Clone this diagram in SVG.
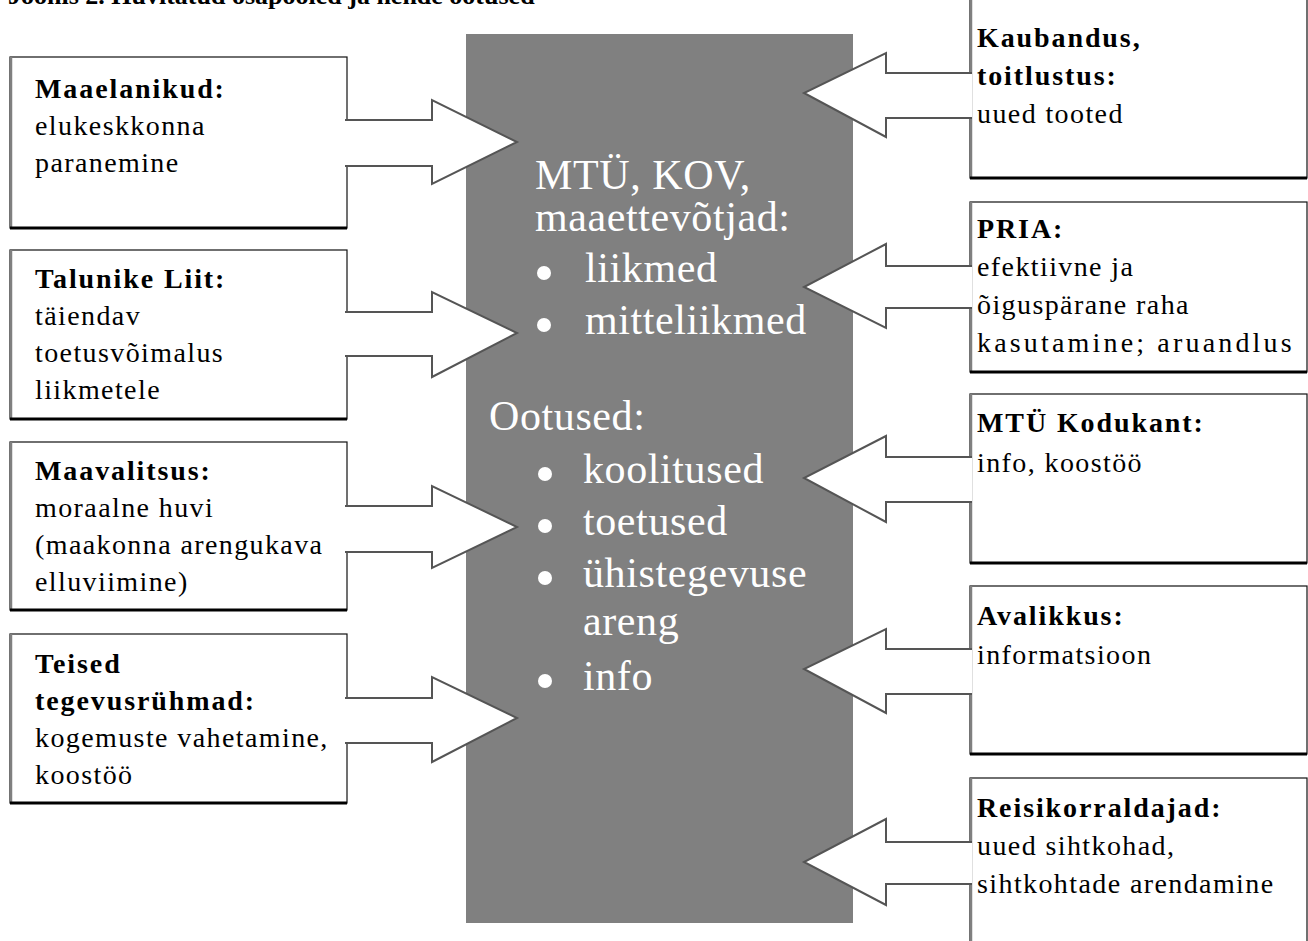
<svg xmlns="http://www.w3.org/2000/svg" width="1308" height="941" viewBox="0 0 1308 941">
<style>
.bg{fill:#ffffff}
.box{fill:#ffffff;stroke:#111;stroke-width:1.2}
.bl{stroke:#808080;stroke-width:2.5}
.bb{stroke:#000;stroke-width:3}
.t{font-family:"Liberation Serif","Times New Roman",serif;font-size:28px;fill:#000;letter-spacing:1.4px}
.b{font-weight:bold;letter-spacing:1.9px}
.c{font-family:"Liberation Serif","Times New Roman",serif;font-size:42px;fill:#ffffff;letter-spacing:0.6px}
.arrow{fill:#ffffff;stroke:#555;stroke-width:2;stroke-linejoin:miter}
.dot{fill:#ffffff}
.title{font-family:"Liberation Serif","Times New Roman",serif;font-size:26px;font-weight:bold;fill:#000}
</style>
<rect class="bg" x="0" y="0" width="1308" height="941"/>
<text class="title" x="8" y="4">Joonis 2. Huvitatud osapooled ja nende ootused</text>

<g id="center">
<rect x="466" y="34" width="387" height="889" fill="#808080"/>
<text class="c" x="535" y="189">MTÜ, KOV,</text>
<text class="c" x="535" y="231">maaettevõtjad:</text>
<circle class="dot" cx="544" cy="273" r="7"/>
<text class="c" x="585" y="282">liikmed</text>
<circle class="dot" cx="544" cy="325" r="7"/>
<text class="c" x="585" y="334">mitteliikmed</text>
<text class="c" x="489" y="430">Ootused:</text>
<circle class="dot" cx="545" cy="474" r="7"/>
<text class="c" x="583" y="483">koolitused</text>
<circle class="dot" cx="545" cy="526" r="7"/>
<text class="c" x="583" y="535">toetused</text>
<circle class="dot" cx="545" cy="578" r="7"/>
<text class="c" x="583" y="587">ühistegevuse</text>
<text class="c" x="583" y="635">areng</text>
<circle class="dot" cx="545" cy="681" r="7"/>
<text class="c" x="583" y="690">info</text>
</g>

<g id="maaelanikud">
<rect class="box" x="10" y="57" width="337" height="171"/>
<line class="bl" x1="11" y1="57" x2="11" y2="228"/>
<line class="bb" x1="10" y1="228" x2="347" y2="228"/>
<text class="t b" x="35" y="98">Maaelanikud:</text>
<text class="t" x="35" y="135">elukeskkonna</text>
<text class="t" x="35" y="172">paranemine</text>
</g>
<g id="talunike-liit">
<rect class="box" x="10" y="250" width="337" height="169"/>
<line class="bl" x1="11" y1="250" x2="11" y2="419"/>
<line class="bb" x1="10" y1="419" x2="347" y2="419"/>
<text class="t b" x="35" y="288">Talunike Liit:</text>
<text class="t" x="35" y="325">täiendav</text>
<text class="t" x="35" y="362">toetusvõimalus</text>
<text class="t" x="35" y="399">liikmetele</text>
</g>
<g id="maavalitsus">
<rect class="box" x="10" y="442" width="337" height="168"/>
<line class="bl" x1="11" y1="442" x2="11" y2="610"/>
<line class="bb" x1="10" y1="610" x2="347" y2="610"/>
<text class="t b" x="35" y="480">Maavalitsus:</text>
<text class="t" x="35" y="517">moraalne huvi</text>
<text class="t" x="35" y="554">(maakonna arengukava</text>
<text class="t" x="35" y="591">elluviimine)</text>
</g>
<g id="teised">
<rect class="box" x="10" y="634" width="337" height="169"/>
<line class="bl" x1="11" y1="634" x2="11" y2="803"/>
<line class="bb" x1="10" y1="803" x2="347" y2="803"/>
<text class="t b" x="35" y="673">Teised</text>
<text class="t b" x="35" y="710">tegevusrühmad:</text>
<text class="t" x="35" y="747">kogemuste vahetamine,</text>
<text class="t" x="35" y="784">koostöö</text>
</g>

<g id="kaubandus">
<rect class="box" x="970" y="-4" width="337" height="182"/>
<line class="bl" x1="971" y1="-4" x2="971" y2="178"/>
<line class="bb" x1="970" y1="178" x2="1307" y2="178"/>
<text class="t b" x="977" y="47">Kaubandus,</text>
<text class="t b" x="977" y="85">toitlustus:</text>
<text class="t" x="977" y="123">uued tooted</text>
</g>
<g id="pria">
<rect class="box" x="970" y="202" width="337" height="170"/>
<line class="bl" x1="971" y1="202" x2="971" y2="372"/>
<line class="bb" x1="970" y1="372" x2="1307" y2="372"/>
<text class="t b" x="977" y="238">PRIA:</text>
<text class="t" x="977" y="276">efektiivne ja</text>
<text class="t" x="977" y="314">õiguspärane raha</text>
<text class="t" x="977" y="352" textLength="316" lengthAdjust="spacing">kasutamine; aruandlus</text>
</g>
<g id="kodukant">
<rect class="box" x="970" y="394" width="337" height="169"/>
<line class="bl" x1="971" y1="394" x2="971" y2="563"/>
<line class="bb" x1="970" y1="563" x2="1307" y2="563"/>
<text class="t b" x="977" y="432">MTÜ Kodukant:</text>
<text class="t" x="977" y="472">info, koostöö</text>
</g>
<g id="avalikkus">
<rect class="box" x="970" y="586" width="337" height="168"/>
<line class="bl" x1="971" y1="586" x2="971" y2="754"/>
<line class="bb" x1="970" y1="754" x2="1307" y2="754"/>
<text class="t b" x="977" y="625">Avalikkus:</text>
<text class="t" x="977" y="664">informatsioon</text>
</g>
<g id="reisikorraldajad">
<rect class="box" x="970" y="778" width="337" height="180"/>
<line class="bl" x1="971" y1="778" x2="971" y2="958"/>
<text class="t b" x="977" y="817">Reisikorraldajad:</text>
<text class="t" x="977" y="855">uued sihtkohad,</text>
<text class="t" x="977" y="893">sihtkohtade arendamine</text>
</g>

<g id="connectors">
<path class="arrow" d="M345,120 H432 V100 L517,142 L432,184 V166 H345"/>
<path class="arrow" d="M345,312 H432 V292 L517,333 L432,377 V356 H345"/>
<path class="arrow" d="M345,506 H432 V486 L517,527 L432,568 V552 H345"/>
<path class="arrow" d="M345,698 H432 V677 L517,718 L432,762 V743 H345"/>
<path class="arrow" d="M972,73 H886 V53 L804,93 L886,137 V118 H972"/>
<path class="arrow" d="M972,266 H886 V244 L804,287 L886,328 V308 H972"/>
<path class="arrow" d="M972,457 H886 V436 L804,478 L886,522 V502 H972"/>
<path class="arrow" d="M972,649 H886 V629 L804,669 L886,713 V694 H972"/>
<path class="arrow" d="M972,842 H886 V819 L804,862 L886,905 V884 H972"/>
</g>
</svg>
